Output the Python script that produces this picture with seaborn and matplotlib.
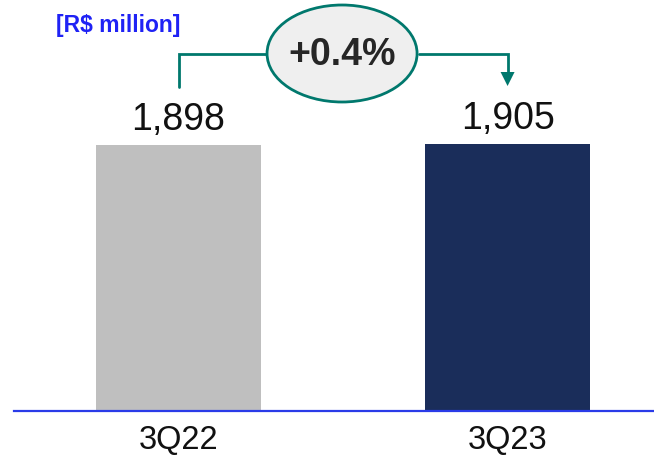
import matplotlib
matplotlib.use("Agg")
import matplotlib.pyplot as plt
from matplotlib.patches import Ellipse
import seaborn as sns
import pandas as pd

# Quarterly values in R$ million
quarters = ["3Q22", "3Q23"]
values = [1898, 1905]
value_labels = ["1,898", "1,905"]
change_label = "+0.4%"
unit_label = "[R$ million]"
bar_colors = ["#bfbfbf", "#1a2d5a"]

sns.set_theme(style="white")
plt.rcParams["font.family"] = ["Liberation Sans", "DejaVu Sans"]

W, H = 654, 459
fig = plt.figure(figsize=(W / 100, H / 100), dpi=100)
fig.patch.set_facecolor("white")

# axes: baseline at y=411 px, left edge at x=14 px
left_px, base_px = 14, 411
ax = fig.add_axes([left_px / W, (H - base_px) / H, (W - left_px) / W, base_px / H])

df = pd.DataFrame({"quarter": quarters, "value": values})
sns.barplot(data=df, x="quarter", y="value", hue="quarter", palette=bar_colors,
            width=0.5, legend=False, ax=ax, saturation=1, linewidth=0)

ymax = 2936
ax.set_ylim(0, ymax)
ax.set_xlim(-0.5, 1.445)

for c, lab in zip(ax.containers, value_labels):
    ax.bar_label(c, labels=[lab], padding=5, fontsize=27, color="#111111")

# axis styling
for s in ["top", "right", "left"]:
    ax.spines[s].set_visible(False)
ax.spines["bottom"].set_color("#2a3be8")
ax.spines["bottom"].set_linewidth(1.6)
ax.set_yticks([])
ax.set_xlabel("")
ax.set_ylabel("")
ax.tick_params(axis="x", length=0, pad=10, labelsize=23.5, labelcolor="#111111")
ax.set_facecolor("none")

# growth bracket with arrow
teal = "#00786d"
def py(px):
    return (base_px - px) / base_px * ymax

y_line = py(54)
ax.plot([0, 0, 0.27], [py(87), y_line, y_line], color=teal, lw=2, clip_on=False,
        solid_joinstyle="miter")
ax.plot([0.73, 1, 1], [y_line, y_line, py(74)], color=teal, lw=2, clip_on=False,
        solid_joinstyle="miter")
ax.fill([1 - 7 / 329, 1 + 7 / 329, 1], [py(72), py(72), py(86)], color=teal,
        clip_on=False, lw=0)

ell = Ellipse((0.497, py(53.5)), width=150 / 329, height=97 / base_px * ymax,
              facecolor="#efefef", edgecolor=teal, lw=2, clip_on=False, zorder=5)
ax.add_patch(ell)
ax.text(0.497, py(65), change_label, ha="center", va="baseline", fontsize=27,
        fontweight="bold", color="#262626", zorder=6)

fig.text(56 / W, 1 - 32 / H, unit_label, ha="left", va="baseline", fontsize=16.5,
         fontweight="bold", color="#1f22f5")

fig.savefig("out.png", dpi=100)
